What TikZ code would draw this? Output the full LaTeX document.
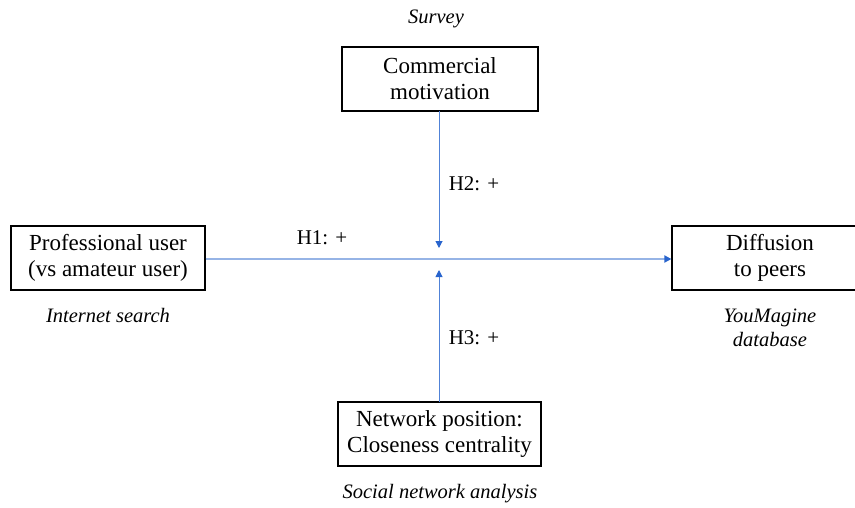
\documentclass[tikz,border=0pt]{standalone}
\usepackage{fontspec}
\setmainfont{Liberation Serif}
\usetikzlibrary{arrows.meta}
\definecolor{lineblue}{RGB}{80,130,215}
\definecolor{hlineblue}{RGB}{150,180,230}
\definecolor{tipblue}{RGB}{40,100,205}
\tikzset{
  box/.style={draw=black, line width=1.2pt, minimum height=64pt, align=center, font=\fontsize{23}{26}\selectfont, inner sep=0pt},
  src/.style={font=\fontsize{20.5}{24}\selectfont\itshape, align=center},
  hyp/.style={font=\fontsize{21}{24}\selectfont},
  conn/.style={draw=lineblue, line width=1pt, -{Triangle[length=7pt,width=7pt,fill=tipblue,color=tipblue]}},
}
\begin{document}
\begin{tikzpicture}[x=1pt,y=-1pt]
\useasboundingbox (0,0) rectangle (855,507);
\clip (0,0) rectangle (855,507);
\node[box, minimum width=196pt] (com) at (440,79) {Commercial\\motivation};
\node[box, minimum width=194pt] (pro) at (108,258) {Professional user\\(vs amateur user)};
\node[box, minimum width=196pt] (dif) at (770,258) {Diffusion\\to peers};
\node[box, minimum width=203pt] (net) at (439.5,434) {Network position:\\Closeness centrality};
\coordinate (top) at (439,248);
\coordinate (bot) at (439,270);
\coordinate (comb) at (439,111);
\coordinate (netb) at (439,402);
\draw[conn, draw=hlineblue, line width=1.8pt] (pro.east |- 0,259) -- (dif.west |- 0,259);
\draw[conn] (comb) -- (top);
\draw[conn] (netb) -- (bot);
\node[src] (s1) at (436,19) {Survey};
\node[src] (s2) at (108,315) {Internet search};
\node[src] (s3) at (770,328) {YouMagine\\database};
\node[src] (s4) at (440,494) {Social network analysis};
\node[hyp] (h1) at (322,238) {H1: +};
\node[hyp] (h2) at (474,184) {H2: +};
\node[hyp] (h3) at (474,338) {H3: +};
\end{tikzpicture}
\end{document}
